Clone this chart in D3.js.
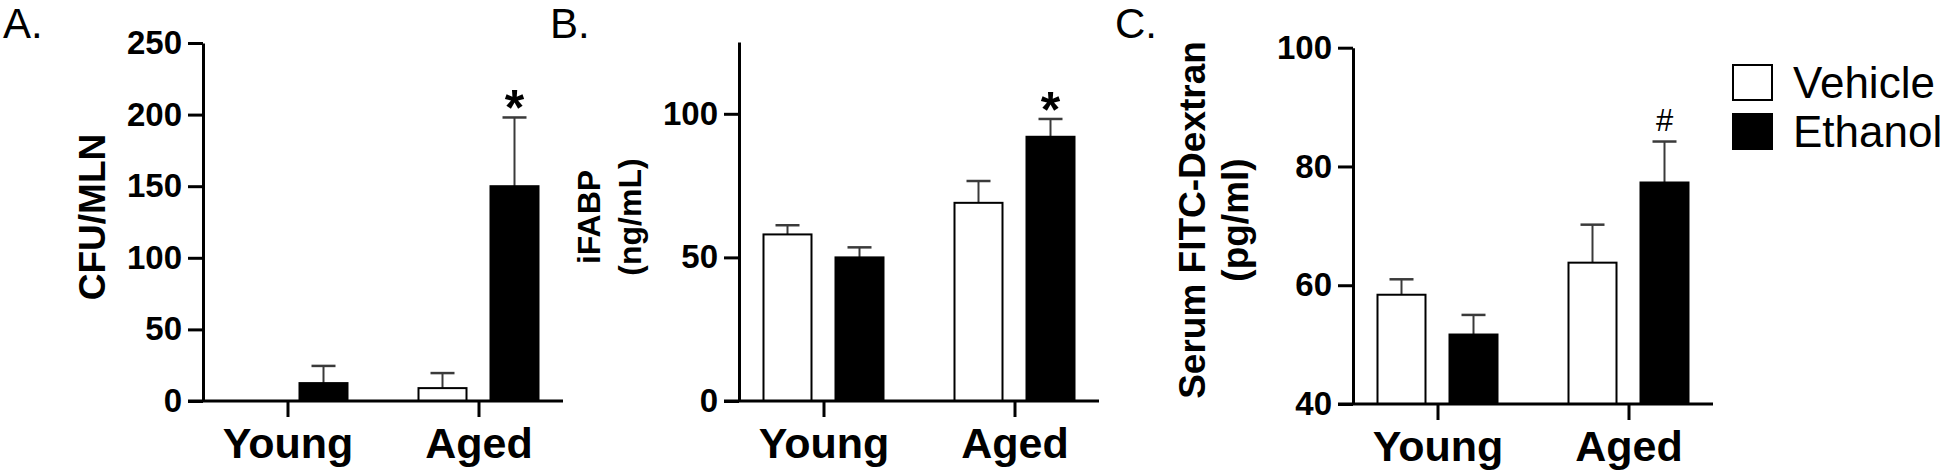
<!DOCTYPE html>
<html>
<head>
<meta charset="utf-8">
<script src="https://cdn.jsdelivr.net/npm/d3@7"></script>
<style>
  body { margin: 0; background: #fff; }
  svg { display: block; }
  text { font-family: "Liberation Sans", Arial, Helvetica, sans-serif; fill: #000; }
</style>
</head>
<body>
<svg id="chart"></svg>
<script>
/**
 * Data
 */
var groups = ['Young', 'Aged'];
var treatments = ['Vehicle', 'Ethanol'];

// A. bacterial translocation
var cfuVehicle = [0, 9];
var cfuVehicleErr = [0, 10.5];
var cfuEthanol = [12.5, 150];
var cfuEthanolErr = [12, 48];
var cfuEthanolMarks = ['', '*'];
var cfuTicks = [0, 50, 100, 150, 200, 250];

// B. iFABP
var ifabpVehicle = [58, 69];
var ifabpVehicleErr = [3.2, 7.6];
var ifabpEthanol = [50, 92];
var ifabpEthanolErr = [3.5, 6.2];
var ifabpEthanolMarks = ['', '*'];
var ifabpTicks = [0, 50, 100];

// C. FITC-dextran
var fitcVehicle = [58.4, 63.8];
var fitcVehicleErr = [2.6, 6.4];
var fitcEthanol = [51.7, 77.3];
var fitcEthanolErr = [3.3, 6.9];
var fitcEthanolMarks = ['', '#'];
var fitcTicks = [40, 60, 80, 100];

var width = 1946;
var height = 476;
var plotWidth = 360;

var svg = d3.select('#chart')
  .attr('width', width)
  .attr('height', height);

// group and bar positions are shared by all three panels
var xGroup = d3.scalePoint()
  .domain(groups)
  .range([0, plotWidth])
  .padding(0.4424);

var xBar = d3.scaleBand()
  .domain(treatments)
  .range([-60, 60])
  .paddingInner(1 / 3)
  .paddingOuter(0);

var barFill = { Vehicle: '#fff', Ethanol: '#000' };

var drawPanel = function drawPanel(p) {
  var g = svg.append('g').attr('transform', 'translate(' + p.left + ',0)');

  var y = d3.scaleLinear()
    .domain(p.domain)
    .range([p.bottom, p.top]);

  var rows = [];
  groups.forEach(function(grp, i) {
    treatments.forEach(function(t) {
      rows.push({
        group: grp,
        treatment: t,
        mean: p.means[t][i],
        err: p.errs[t][i],
        mark: p.marks[t] ? p.marks[t][i] : ''
      });
    });
  });

  var cx = function(d) { return xGroup(d.group) + xBar(d.treatment) + xBar.bandwidth() / 2; };

  // error bars (upper only) drawn under the bars
  var err = g.selectAll('g.err')
    .data(rows.filter(function(d) { return d.err > 0; }))
    .enter().append('g')
    .attr('class', 'err');

  err.append('line')
    .attr('x1', cx).attr('x2', cx)
    .attr('y1', function(d) { return y(d.mean); })
    .attr('y2', function(d) { return y(d.mean + d.err); })
    .attr('stroke', '#3a3a3a')
    .attr('stroke-width', 2);

  err.append('line')
    .attr('x1', function(d) { return cx(d) - 12; })
    .attr('x2', function(d) { return cx(d) + 12; })
    .attr('y1', function(d) { return y(d.mean + d.err); })
    .attr('y2', function(d) { return y(d.mean + d.err); })
    .attr('stroke', '#3a3a3a')
    .attr('stroke-width', 2.5);

  g.selectAll('rect.bar')
    .data(rows)
    .enter().append('rect')
    .attr('class', 'bar')
    .attr('x', function(d) { return xGroup(d.group) + xBar(d.treatment); })
    .attr('width', xBar.bandwidth())
    .attr('y', function(d) { return y(d.mean); })
    .attr('height', function(d) { return Math.max(0, y(p.domain[0]) - y(d.mean)); })
    .attr('fill', function(d) { return barFill[d.treatment]; })
    .attr('stroke', '#000')
    .attr('stroke-width', 2);

  // significance marks
  g.selectAll('text.mark')
    .data(rows.filter(function(d) { return d.mark; }))
    .enter().append('text')
    .attr('class', 'mark')
    .attr('x', cx)
    .attr('y', function(d) {
      var top = y(d.mean + d.err);
      return d.mark === '*' ? top + 8 : top - 11;
    })
    .attr('text-anchor', 'middle')
    .style('font-size', function(d) { return d.mark === '*' ? '50px' : '31px'; })
    .style('font-weight', function(d) { return d.mark === '*' ? 'bold' : 'normal'; })
    .text(function(d) { return d.mark; });

  // y axis
  var yAxis = g.append('g')
    .call(d3.axisLeft(y).tickValues(p.ticks).tickSize(15).tickSizeOuter(0).tickPadding(6));
  yAxis.select('.domain').attr('stroke-width', 3);
  yAxis.selectAll('.tick line').attr('stroke-width', 3);
  yAxis.selectAll('.tick text')
    .style('font-size', '33px')
    .style('font-weight', 'bold');

  // x axis, baseline runs out to the end of the y ticks
  var xAxis = g.append('g')
    .attr('transform', 'translate(0,' + p.bottom + ')')
    .call(d3.axisBottom(xGroup).tickSize(16).tickSizeOuter(0).tickPadding(10));
  xAxis.select('.domain').remove();
  xAxis.append('line')
    .attr('x1', -15).attr('x2', plotWidth)
    .attr('stroke', '#000')
    .attr('stroke-width', 3);
  xAxis.selectAll('.tick line').attr('stroke-width', 3);
  xAxis.selectAll('.tick text')
    .style('font-size', '43px')
    .style('font-weight', 'bold');

  // rotated y label, one text per line
  p.label.forEach(function(line, i) {
    g.append('text')
      .attr('transform', 'translate(' + p.labelX[i] + ',' + p.labelY + ') rotate(-90)')
      .attr('text-anchor', 'middle')
      .style('font-size', p.labelSize + 'px')
      .style('font-weight', 'bold')
      .text(line);
  });

  svg.append('text')
    .attr('x', p.letterX)
    .attr('y', 38)
    .style('font-size', '42px')
    .text(p.letter);
};

drawPanel({
  letter: 'A.', letterX: 3,
  left: 203, bottom: 401, top: 43, domain: [0, 250], ticks: cfuTicks,
  means: { Vehicle: cfuVehicle, Ethanol: cfuEthanol },
  errs: { Vehicle: cfuVehicleErr, Ethanol: cfuEthanolErr },
  marks: { Ethanol: cfuEthanolMarks },
  label: ['CFU/MLN'], labelX: [-98], labelY: 217, labelSize: 37
});

drawPanel({
  letter: 'B.', letterX: 550,
  left: 739, bottom: 401, top: 42, domain: [0, 125], ticks: ifabpTicks,
  means: { Vehicle: ifabpVehicle, Ethanol: ifabpEthanol },
  errs: { Vehicle: ifabpVehicleErr, Ethanol: ifabpEthanolErr },
  marks: { Ethanol: ifabpEthanolMarks },
  label: ['iFABP', '(ng/mL)'], labelX: [-139, -98], labelY: 217, labelSize: 32
});

drawPanel({
  letter: 'C.', letterX: 1115,
  left: 1353, bottom: 404, top: 47.7, domain: [40, 100], ticks: fitcTicks,
  means: { Vehicle: fitcVehicle, Ethanol: fitcEthanol },
  errs: { Vehicle: fitcVehicleErr, Ethanol: fitcEthanolErr },
  marks: { Ethanol: fitcEthanolMarks },
  label: ['Serum FITC-Dextran', '(pg/ml)'], labelX: [-148, -105], labelY: 220, labelSize: 37
});

/**
 * Legend
 */
var legend = svg.append('g').attr('transform', 'translate(1733,65)');
var legendItem = legend.selectAll('g')
  .data(treatments)
  .enter().append('g')
  .attr('transform', function(d, i) { return 'translate(0,' + i * 49 + ')'; });

legendItem.append('rect')
  .attr('width', 39)
  .attr('height', 35)
  .attr('fill', function(d) { return barFill[d]; })
  .attr('stroke', '#000')
  .attr('stroke-width', 2);

legendItem.append('text')
  .attr('x', 60)
  .attr('y', 33)
  .style('font-size', '44px')
  .text(function(d) { return d; });
</script>
</body>
</html>
